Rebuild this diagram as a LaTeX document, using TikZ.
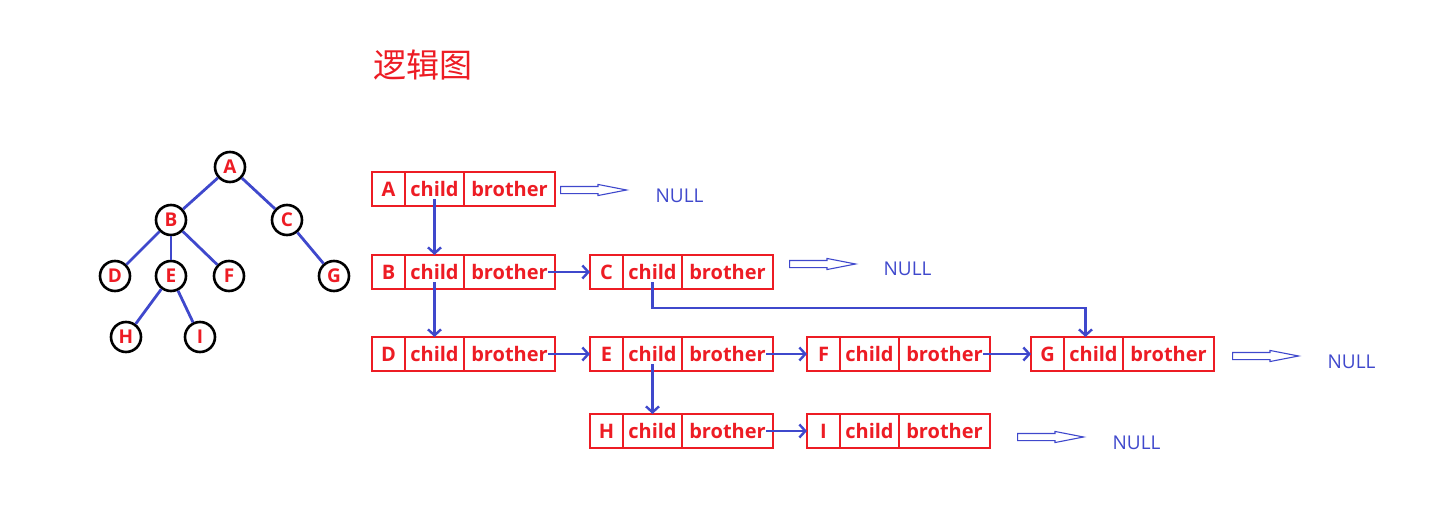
\documentclass[tikz,border=0pt]{standalone}
\usepackage{fontspec}
\setmainfont{Open Sans}
\newfontfamily\cjk{Noto Sans CJK SC}
\usetikzlibrary{positioning,arrows.meta,shapes.arrows}
\definecolor{pred}{RGB}{237,28,36}
\definecolor{pblue}{RGB}{63,72,204}
\tikzset{
  tnode/.style={circle, draw=black, line width=2.6pt, minimum size=30pt, inner sep=0pt,
    text=pred, font=\fontsize{19}{19}\selectfont\bfseries},
  edge/.style={pblue, line width=2.8pt},
  key/.style={draw=pred, line width=2.8pt, minimum height=34pt, minimum width=33pt,
    inner sep=0pt, outer sep=0pt, text=pred, font=\fontsize{20}{20}\selectfont\bfseries},
  cell/.style={key},
  link/.style={pblue, line width=2.8pt, -{Straight Barb[length=6pt,width=13pt,line width=2.4pt]}},
  nullarrow/.style={single arrow, draw=pblue, line width=1.1pt, inner sep=0pt, inner ysep=3pt,
    minimum height=66pt, minimum width=10pt, single arrow head extend=2pt,
    single arrow tip angle=22, anchor=tail},
  nulltext/.style={text=pblue, font=\fontsize{19}{19}\selectfont, anchor=west, inner sep=0pt}
}
\begin{document}
\begin{tikzpicture}[x=1pt,y=-1pt]
\useasboundingbox (0,0) rectangle (1452,519);

\node[text=pred, font=\cjk\fontsize{33}{33}\selectfont] (title) at (423,65) {逻辑图};

% tree
\node[tnode] (tA) at (230,167) {A};
\node[tnode] (tB) at (171,220) {B};
\node[tnode] (tC) at (287,220) {C};
\node[tnode] (tD) at (115,276) {D};
\node[tnode] (tE) at (171,276) {E};
\node[tnode] (tF) at (229,276) {F};
\node[tnode] (tG) at (334,276) {G};
\node[tnode] (tH) at (126,337) {H};
\node[tnode] (tI) at (200,337) {I};
\draw[edge] (tA) -- (tB);
\draw[edge] (tA) -- (tC);
\draw[edge] (tB) -- (tD);
\draw[edge] (tB) -- (tE);
\draw[edge] (tB) -- (tF);
\draw[edge] (tC) -- (tG);
\draw[edge] (tE) -- (tH);
\draw[edge] (tE) -- (tI);

% child-brother records
\foreach \n/\x/\y in {A/372/189, B/372/272, C/590/272, D/372/354, E/590/354,
                      F/807/354, G/1031/354, H/590/431, I/807/431} {
  \node[key, anchor=west] (r\n) at (\x,\y) {\n};
  \node[cell, minimum width=59pt, right=0pt of r\n] (r\n c) {child};
  \node[cell, minimum width=91pt, right=0pt of r\n c] (r\n b) {brother};
}

\draw[link] ([yshift=-10pt]rAc.center) -- (rBc.north);
\draw[link] ([yshift=-10pt]rBc.center) -- (rDc.north);
\draw[link] ([yshift=-10pt]rEc.center) -- (rHc.north);
\draw[link] ([yshift=-10pt]rCc.center) -- ++(0,26) -| ([xshift=-8pt]rGc.north);
\draw[link] ([xshift=-7pt]rBb.east) -- (rC.west);
\draw[link] ([xshift=-7pt]rDb.east) -- (rE.west);
\draw[link] ([xshift=-7pt]rEb.east) -- (rF.west);
\draw[link] ([xshift=-7pt]rFb.east) -- (rG.west);
\draw[link] ([xshift=-7pt]rHb.east) -- (rI.west);

% NULL
\node[nullarrow] (aA) at ([xshift=5pt,yshift=-1pt]rAb.east) {};
\node[nullarrow] (aC) at ([xshift=16pt,yshift=8pt]rCb.east) {};
\node[nullarrow] (aG) at ([xshift=18pt,yshift=-2pt]rGb.east) {};
\node[nullarrow] (aI) at ([xshift=27pt,yshift=-6pt]rIb.east) {};
\node[nulltext] (nA) at ([xshift=26pt,yshift=-6pt]aA.tip) {NULL};
\node[nulltext] (nC) at ([xshift=25pt,yshift=-5pt]aC.tip) {NULL};
\node[nulltext] (nG) at ([xshift=26pt,yshift=-6pt]aG.tip) {NULL};
\node[nulltext] (nI) at ([xshift=26pt,yshift=-6pt]aI.tip) {NULL};
\end{tikzpicture}
\end{document}
